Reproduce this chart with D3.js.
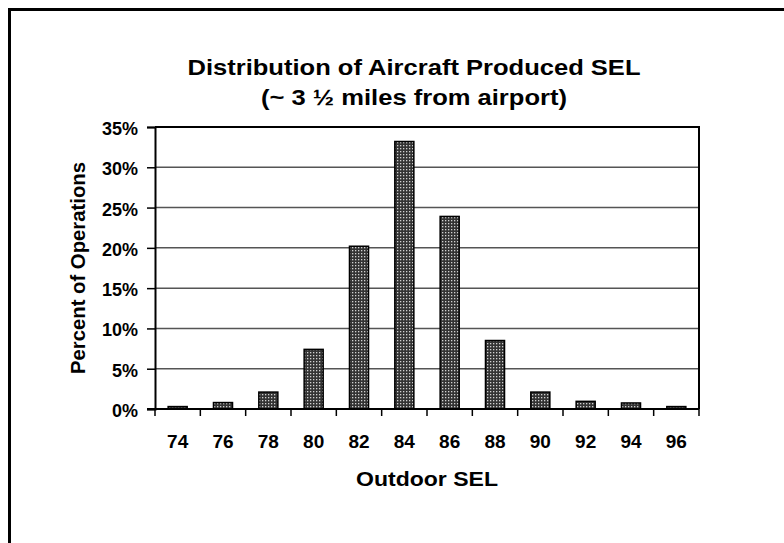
<!DOCTYPE html>
<html>
<head>
<meta charset="utf-8">
<script src="https://cdn.jsdelivr.net/npm/d3@7"></script>
<style>
  body { margin: 0; background: #fff; }
  svg text { font-family: "Liberation Sans", Arial, sans-serif; font-weight: bold; fill: #000; }
</style>
</head>
<body>
<svg id="chart" width="784" height="543"></svg>
<script>
// 値は画像から読み取ったもの
const categories = ['74', '76', '78', '80', '82', '84', '86', '88', '90', '92', '94', '96'];
const percentValues = [0.3, 0.8, 2.1, 7.4, 20.2, 33.2, 23.9, 8.5, 2.1, 0.95, 0.75, 0.3];
const yTicks = [0, 5, 10, 15, 20, 25, 30, 35];

const svg = d3.select('#chart');

const plot = { left: 155, right: 699, top: 127, bottom: 409 };

const x = d3.scaleBand()
  .domain(categories)
  .range([plot.left, plot.right])
  .paddingInner(0.58)
  .paddingOuter(0.29);

const band = d3.scaleBand()
  .domain(categories)
  .range([plot.left, plot.right]);

const y = d3.scaleLinear()
  .domain([0, 35])
  .range([plot.bottom, plot.top]);

// 外枠（画像からはみ出している）
svg.append('rect')
  .attr('x', 9.5).attr('y', 9.5)
  .attr('width', 900).attr('height', 700)
  .attr('fill', 'none')
  .attr('stroke', '#000')
  .attr('stroke-width', 3);

// ドットのパターン
const defs = svg.append('defs');
const pat = defs.append('pattern')
  .attr('id', 'dots')
  .attr('patternUnits', 'userSpaceOnUse')
  .attr('width', 3).attr('height', 3);
pat.append('rect').attr('width', 3).attr('height', 3).attr('fill', '#333');
pat.append('rect').attr('x', 1).attr('y', 1).attr('width', 1.3).attr('height', 1.3).attr('fill', '#d0d0d0');

// グリッド線
svg.append('g')
  .selectAll('line')
  .data(yTicks.filter(d => d > 0 && d < 35))
  .join('line')
  .attr('x1', plot.left).attr('x2', plot.right)
  .attr('y1', d => y(d)).attr('y2', d => y(d))
  .attr('stroke', '#555')
  .attr('stroke-width', 1.5);

// 棒
svg.append('g')
  .selectAll('rect')
  .data(categories.map((c, i) => ({ c, v: percentValues[i] })))
  .join('rect')
  .attr('x', d => x(d.c))
  .attr('y', d => y(d.v))
  .attr('width', x.bandwidth())
  .attr('height', d => y(0) - y(d.v))
  .attr('fill', 'url(#dots)')
  .attr('stroke', '#000')
  .attr('stroke-width', 1.5);

// プロット領域の枠（上と右）
svg.append('path')
  .attr('d', `M${plot.left},${plot.top}H${plot.right}V${plot.bottom}`)
  .attr('fill', 'none')
  .attr('stroke', '#000')
  .attr('stroke-width', 2);

// Y軸
const yAxis = svg.append('g')
  .attr('transform', `translate(${plot.left},0)`)
  .call(d3.axisLeft(y).tickValues(yTicks).tickFormat(d => d + '%').tickSize(8).tickPadding(9));
yAxis.select('.domain').attr('stroke-width', 2);
yAxis.selectAll('.tick line').attr('stroke-width', 1.5);
yAxis.selectAll('text')
  .attr('dy', '0.42em')
  .style('font-size', '18px');

// X軸：目盛りはカテゴリの境界
const xAxisG = svg.append('g');
xAxisG.append('line')
  .attr('x1', plot.left - 8).attr('x2', plot.right)
  .attr('y1', plot.bottom).attr('y2', plot.bottom)
  .attr('stroke', '#000').attr('stroke-width', 2);
const bounds = categories.map(c => band(c)).concat([plot.right]);
xAxisG.selectAll('line.tk')
  .data(bounds)
  .join('line')
  .attr('class', 'tk')
  .attr('x1', d => d).attr('x2', d => d)
  .attr('y1', plot.bottom).attr('y2', plot.bottom + 7)
  .attr('stroke', '#000').attr('stroke-width', 1.5);
xAxisG.selectAll('text')
  .data(categories)
  .join('text')
  .attr('x', d => band(d) + band.bandwidth() / 2)
  .attr('y', 448)
  .attr('text-anchor', 'middle')
  .style('font-size', '19px')
  .text(d => d);

// タイトル
svg.append('text')
  .attr('x', 414).attr('y', 75)
  .attr('text-anchor', 'middle')
  .attr('textLength', 453)
  .attr('lengthAdjust', 'spacingAndGlyphs')
  .style('font-size', '22px')
  .text('Distribution of Aircraft Produced SEL');
svg.append('text')
  .attr('x', 414).attr('y', 105)
  .attr('text-anchor', 'middle')
  .attr('textLength', 306)
  .attr('lengthAdjust', 'spacingAndGlyphs')
  .style('font-size', '22px')
  .text('(~ 3 \u00bd miles from airport)');

// 軸タイトル
svg.append('text')
  .attr('x', 427).attr('y', 486)
  .attr('text-anchor', 'middle')
  .attr('textLength', 142)
  .attr('lengthAdjust', 'spacingAndGlyphs')
  .style('font-size', '21px')
  .text('Outdoor SEL');
svg.append('text')
  .attr('transform', 'translate(85,268) rotate(-90)')
  .attr('text-anchor', 'middle')
  .attr('textLength', 212)
  .attr('lengthAdjust', 'spacingAndGlyphs')
  .style('font-size', '20px')
  .text('Percent of Operations');
</script>
</body>
</html>
